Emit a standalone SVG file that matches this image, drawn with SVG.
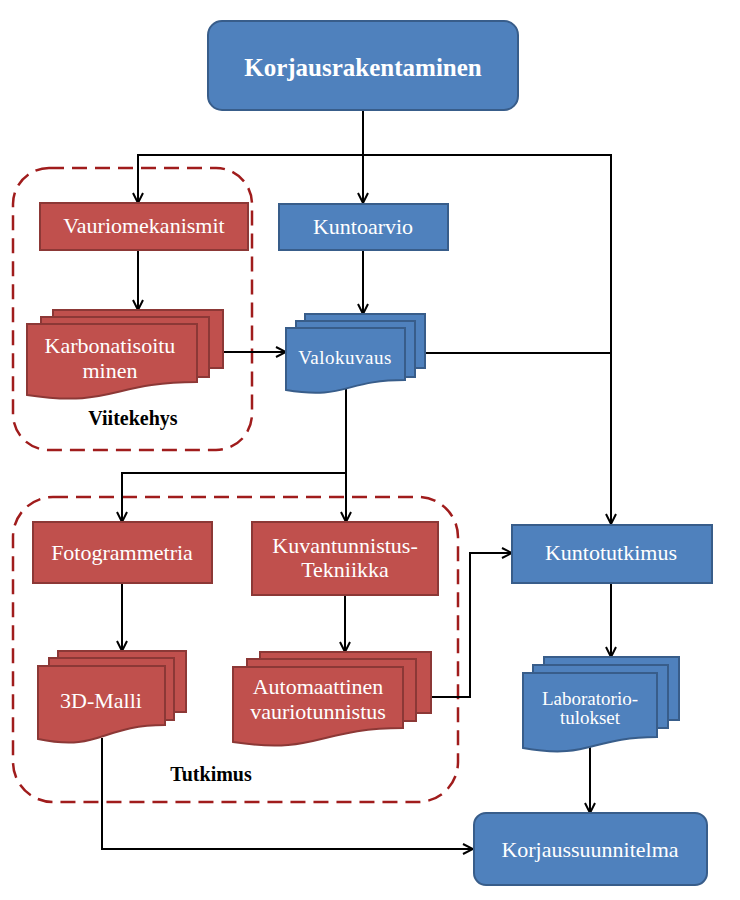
<svg xmlns="http://www.w3.org/2000/svg" width="740" height="900" viewBox="0 0 740 900">
<style>
.blue{fill:#4f81bd;stroke:#385d8a;stroke-width:2}
.red{fill:#c0504d;stroke:#8c3836;stroke-width:2}
.frame{fill:none;stroke:#a01c1c;stroke-width:2.5;stroke-dasharray:15 8}
.t{font-family:"Liberation Serif","DejaVu Serif",serif;fill:#fff;text-anchor:middle;font-size:22px}
.s{font-size:19px}
.b{font-family:"Liberation Serif","DejaVu Serif",serif;fill:#000;text-anchor:middle;font-weight:bold;font-size:20px}
.c{fill:none;stroke:#000;stroke-width:2;marker-end:url(#arr)}
.l{fill:none;stroke:#000;stroke-width:2}
</style>
<defs>
<marker id="arr" viewBox="0 0 12 12" refX="11" refY="6" markerWidth="12" markerHeight="12" markerUnits="userSpaceOnUse" orient="auto">
<path d="M1,1 L11,6 L1,11" fill="none" stroke="#000" stroke-width="2"/>
</marker>
</defs>
<rect width="740" height="900" fill="#fff"/>

<g id="frame-viitekehys">
<rect class="frame" x="13" y="168" width="239" height="282" rx="36"/>
<text class="b" x="133" y="425">Viitekehys</text>
</g>
<g id="frame-tutkimus">
<rect class="frame" x="13" y="497" width="445" height="305" rx="40"/>
<text class="b" x="211" y="781">Tutkimus</text>
</g>

<g id="connectors">
<path class="c" d="M363,110 V203"/>
<path class="c" d="M363,155 H138 V203"/>
<path class="c" d="M363,155 H611 V524"/>
<path class="c" d="M138,250 V310"/>
<path class="c" d="M223,352 H286"/>
<path class="c" d="M363,250 V314"/>
<path class="l" d="M425,353 H611"/>
<path class="c" d="M346,388 V473 H122 V522"/>
<path class="c" d="M346,473 V522"/>
<path class="c" d="M122,583 V651"/>
<path class="c" d="M345,595 V652"/>
<path class="c" d="M431,697 H470 V553 H512"/>
<path class="c" d="M102,738 V849 H473"/>
<path class="c" d="M611,583 V657"/>
<path class="c" d="M590,745 V813"/>
</g>

<g id="korjausrakentaminen">
<rect class="blue" x="208" y="21" width="310" height="89" rx="14"/>
<text class="t" x="363" y="76" style="font-weight:bold;font-size:25px">Korjausrakentaminen</text>
</g>

<g id="vauriomekanismit">
<rect class="red" x="40" y="203" width="208" height="47"/>
<text class="t" x="144" y="233">Vauriomekanismit</text>
</g>

<g id="kuntoarvio">
<rect class="blue" x="279" y="204" width="169" height="46"/>
<text class="t" x="363" y="234">Kuntoarvio</text>
</g>

<g id="karbonatisoituminen">
<rect class="red" x="53" y="310" width="170" height="58"/>
<rect class="red" x="41" y="317" width="168" height="60"/>
<path class="red" d="M27,324 H197 V382 C112,382 112,408 27,395 Z"/>
<text class="t" x="110" y="353">Karbonatisoitu</text>
<text class="t" x="110" y="378">minen</text>
</g>

<g id="valokuvaus">
<rect class="blue" x="305" y="314" width="120" height="54"/>
<rect class="blue" x="296" y="321" width="119" height="56"/>
<path class="blue" d="M286,328 H405 V380 C345,380 345,400 286,390 Z"/>
<text class="t s" x="345" y="364" letter-spacing="0.5">Valokuvaus</text>
</g>

<g id="fotogrammetria">
<rect class="red" x="33" y="522" width="179" height="61"/>
<text class="t" x="122" y="560">Fotogrammetria</text>
</g>

<g id="kuvantunnistus">
<rect class="red" x="252" y="522" width="186" height="73"/>
<text class="t" x="345" y="553">Kuvantunnistus-</text>
<text class="t" x="345" y="577">Tekniikka</text>
</g>

<g id="malli3d">
<rect class="red" x="58" y="651" width="128" height="61"/>
<rect class="red" x="49" y="658" width="125" height="62"/>
<path class="red" d="M38,666 H165 V725 C101,725 101,752 38,739 Z"/>
<text class="t" x="101" y="708">3D-Malli</text>
</g>

<g id="automaattinen">
<rect class="red" x="260" y="652" width="171" height="61"/>
<rect class="red" x="247" y="659" width="169" height="62"/>
<path class="red" d="M233,667 H403 V728 C318,728 318,755 233,742 Z"/>
<text class="t" x="318" y="694">Automaattinen</text>
<text class="t" x="318" y="719">vauriotunnistus</text>
</g>

<g id="kuntotutkimus">
<rect class="blue" x="512" y="525" width="200" height="58"/>
<text class="t" x="611" y="560">Kuntotutkimus</text>
</g>

<g id="laboratoriotulokset">
<rect class="blue" x="544" y="657" width="135" height="63"/>
<rect class="blue" x="533" y="665" width="135" height="63"/>
<path class="blue" d="M523,673 H657 V737 C590,737 590,760 523,748 Z"/>
<text class="t s" x="590" y="705">Laboratorio-</text>
<text class="t s" x="590" y="724">tulokset</text>
</g>

<g id="korjaussuunnitelma">
<rect class="blue" x="474" y="813" width="233" height="72" rx="12"/>
<text class="t" x="590" y="857">Korjaussuunnitelma</text>
</g>
</svg>
